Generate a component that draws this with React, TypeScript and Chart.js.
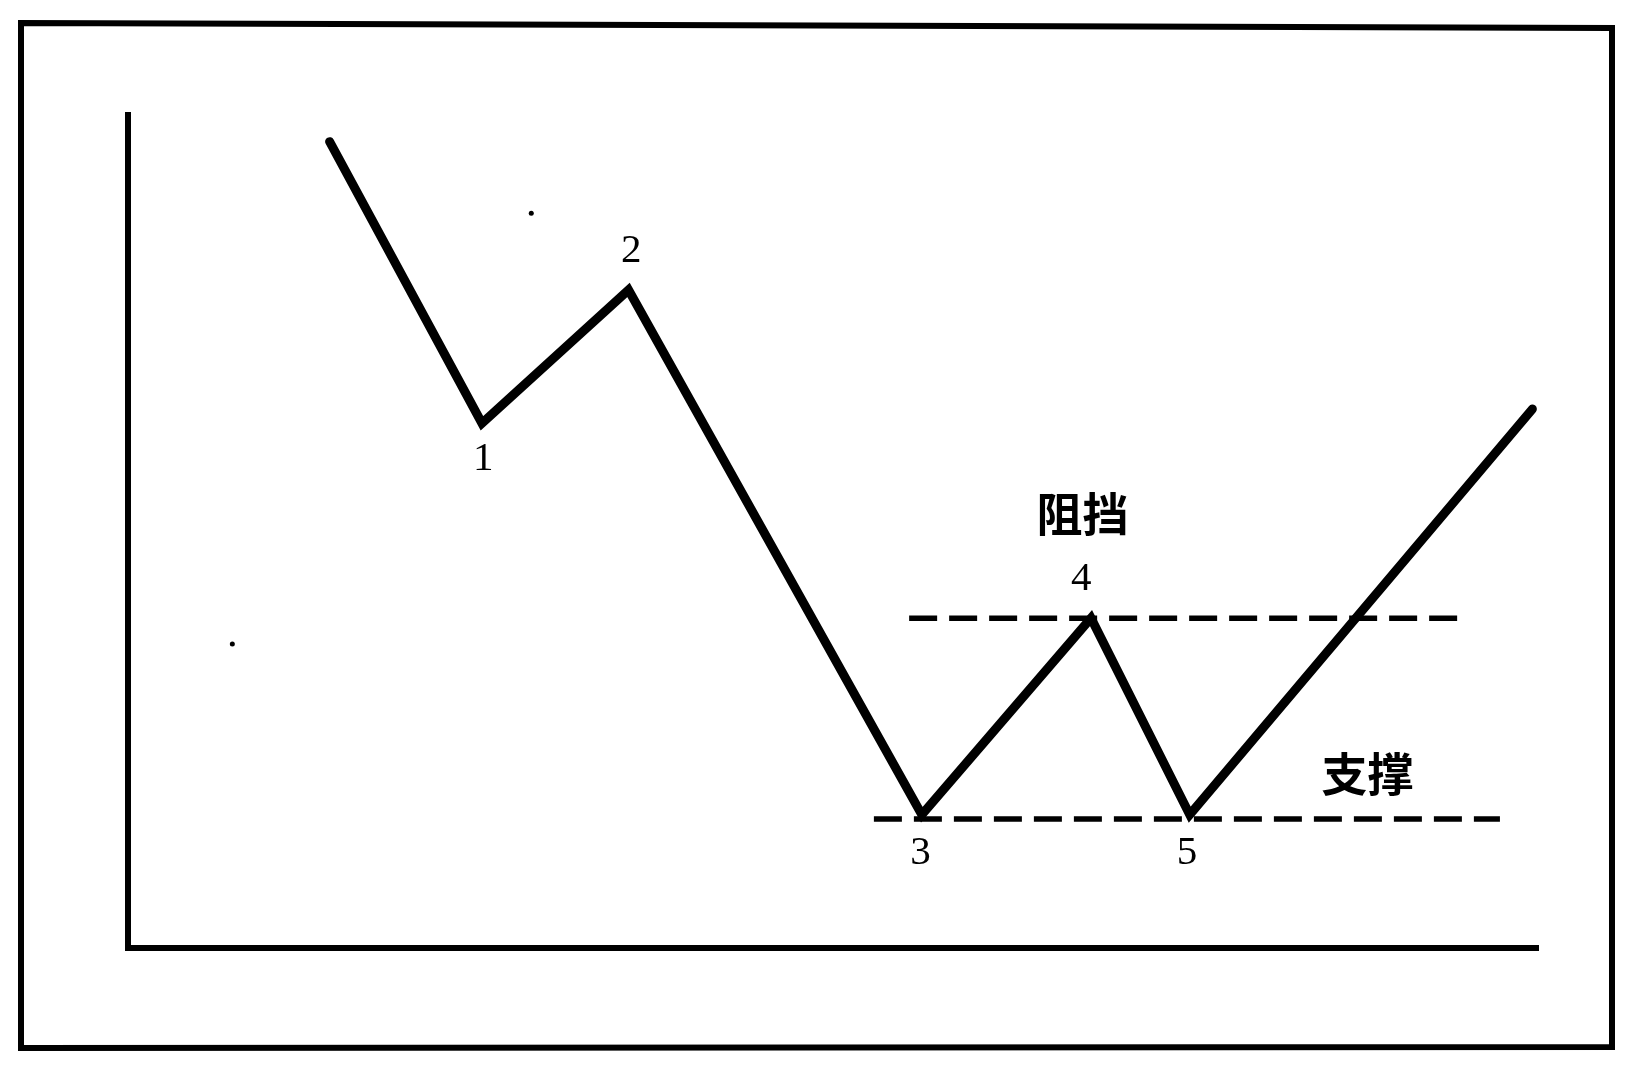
import React, { useEffect, useRef } from "react";
import { Chart, registerables } from "chart.js";

Chart.register(...registerables);

// Price path (time, price) – turning points of the trend
const pathX = [14.3, 25.1, 35.5, 56.3, 68.3, 75.3, 99.6];
const pathY = [96.8, 63.0, 79.0, 16.0, 39.6, 16.0, 64.7];

// Resistance (阻挡) and support (支撑) levels
const resistanceX = [55.4, 94.4];
const resistanceLevel = 39.6;
const supportX = [52.9, 97.3];
const supportLevel = 15.5;

// Small specks in the scan
const speckX = [28.6, 7.4];
const speckY = [88.2, 36.5];

// Point labels
const labelTexts = ["1", "2", "3", "4", "5"];
const labelX = [25.2, 35.7, 56.2, 67.6, 75.1];
const labelY = [58.7, 83.6, 11.4, 44.3, 11.4];

// Level captions
const captionTexts = ["阻挡", "支撑"];
const captionX = [67.7, 87.9];
const captionY = [52.2, 21.0];

const framePlugin = {
  id: "frame",
  beforeDraw(chart: any) {
    const ctx = chart.ctx;
    ctx.save();
    ctx.fillStyle = "#ffffff";
    ctx.fillRect(0, 0, chart.width, chart.height);
    ctx.strokeStyle = "#000000";
    ctx.lineWidth = 6;
    ctx.lineJoin = "miter";
    ctx.beginPath();
    ctx.moveTo(21, 23);
    ctx.lineTo(1612, 28);
    ctx.lineTo(1612, 1047);
    ctx.lineTo(21, 1048);
    ctx.closePath();
    ctx.stroke();
    ctx.restore();
  },
};

const labelPlugin = {
  id: "labels",
  afterDatasetsDraw(chart: any) {
    const ctx = chart.ctx;
    const xs = chart.scales.x;
    const ys = chart.scales.y;
    ctx.save();
    ctx.fillStyle = "#000000";
    ctx.textAlign = "center";
    ctx.textBaseline = "middle";
    ctx.font = '41px "Liberation Serif", "DejaVu Serif", serif';
    labelTexts.forEach((t, i) => {
      ctx.fillText(t, xs.getPixelForValue(labelX[i]), ys.getPixelForValue(labelY[i]));
    });
    ctx.font = 'bold 46px "Noto Sans CJK SC", sans-serif';
    captionTexts.forEach((t, i) => {
      ctx.fillText(t, xs.getPixelForValue(captionX[i]), ys.getPixelForValue(captionY[i]));
    });
    ctx.restore();
  },
};

export default function App() {
  const ref = useRef<HTMLCanvasElement | null>(null);

  useEffect(() => {
    if (!ref.current) return;
    const chart = new Chart(ref.current, {
      type: "scatter",
      data: {
        datasets: [
          {
            data: pathX.map((x, i) => ({ x, y: pathY[i] })),
            showLine: true,
            borderColor: "#000000",
            borderWidth: 9,
            borderJoinStyle: "miter",
            borderCapStyle: "round",
            pointRadius: 0,
            tension: 0,
          },
          {
            data: resistanceX.map((x) => ({ x, y: resistanceLevel })),
            showLine: true,
            borderColor: "#000000",
            borderWidth: 5.5,
            borderDash: [28, 12],
            pointRadius: 0,
          },
          {
            data: supportX.map((x) => ({ x, y: supportLevel })),
            showLine: true,
            borderColor: "#000000",
            borderWidth: 5.5,
            borderDash: [28, 12],
            pointRadius: 0,
          },
          {
            data: speckX.map((x, i) => ({ x, y: speckY[i] })),
            showLine: false,
            pointRadius: 2.5,
            pointBorderWidth: 0,
            backgroundColor: "#000000",
          },
        ],
      },
      options: {
        animation: false,
        responsive: false,
        events: [],
        layout: { padding: { left: 128, top: 115, right: 95, bottom: 132 } },
        plugins: {
          legend: { display: false },
          tooltip: { enabled: false },
        },
        scales: {
          x: {
            type: "linear",
            min: 0,
            max: 100,
            grid: { display: false, drawTicks: false },
            ticks: { display: false },
            border: { display: true, color: "#000000", width: 6 },
          },
          y: {
            type: "linear",
            min: 0,
            max: 100,
            grid: { display: false, drawTicks: false },
            ticks: { display: false },
            border: { display: true, color: "#000000", width: 6 },
          },
        },
      },
      plugins: [framePlugin, labelPlugin],
    } as any);
    return () => chart.destroy();
  }, []);

  return (
    <div style={{ position: "absolute", left: 0, top: 0, width: 1633, height: 1080 }}>
      <canvas ref={ref} width={1633} height={1080} style={{ display: "block", width: 1633, height: 1080 }} />
    </div>
  );
}
